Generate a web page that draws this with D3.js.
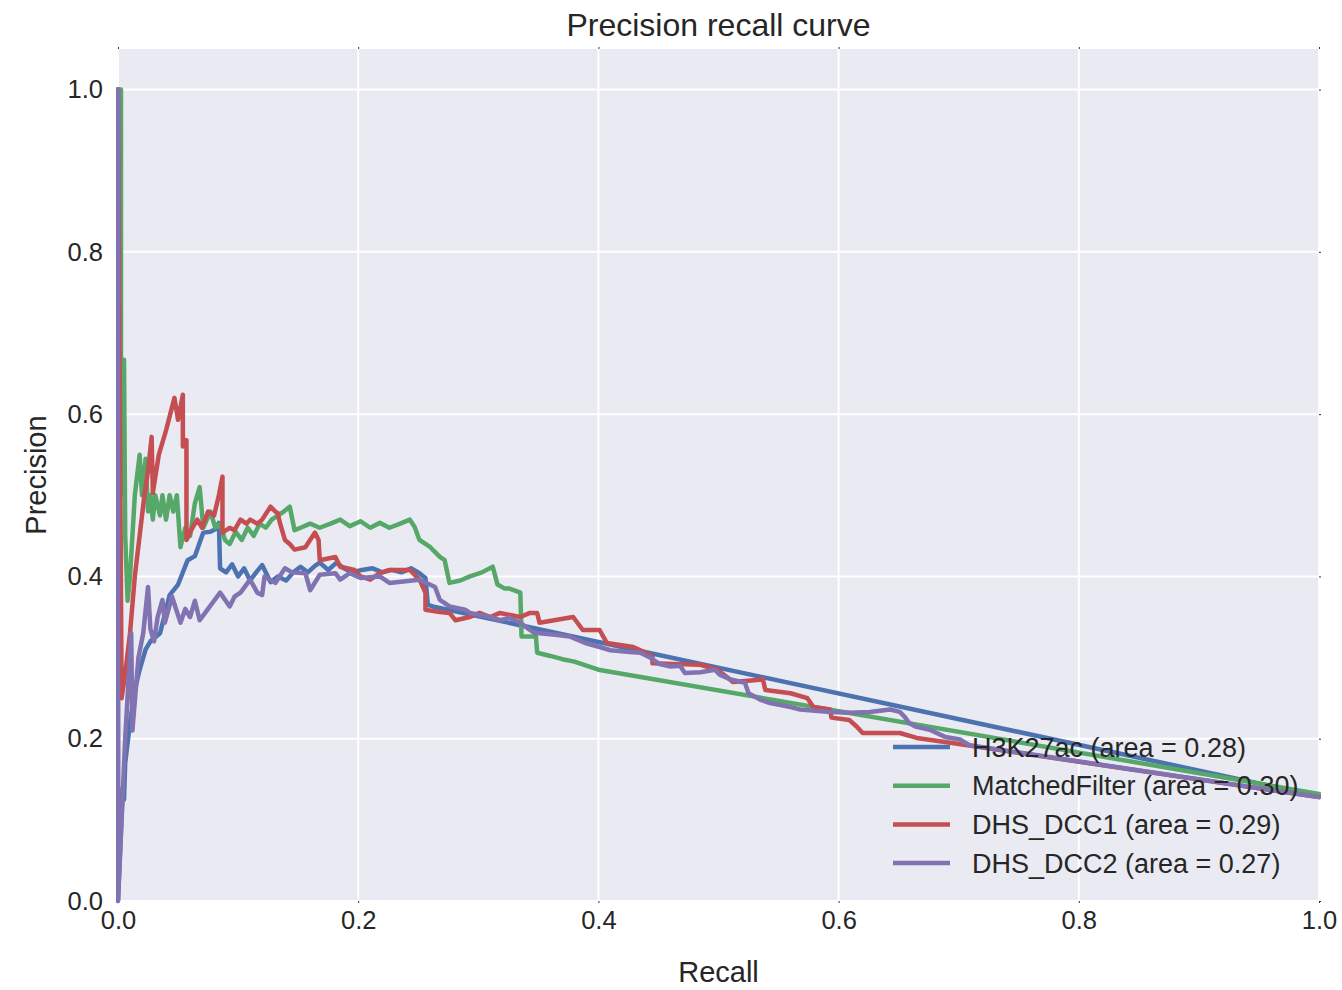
<!DOCTYPE html>
<html>
<head>
<meta charset="utf-8">
<script src="https://cdn.jsdelivr.net/npm/d3@7"></script>
<style>
  body { margin: 0; background: #fff; }
  text { font-family: "Liberation Sans", Arial, sans-serif; fill: #262626; }
</style>
</head>
<body>
<div id="chart"></div>
<script>
// [recall, precision] pairs
var h3k27ac = [[0,1],[0,0],[0.004,0.14],[0.005,0.125],[0.006,0.17],[0.010,0.22],[0.014,0.26],[0.018,0.285],[0.023,0.31],
  [0.027,0.32],[0.035,0.33],[0.043,0.377],[0.050,0.39],[0.058,0.42],[0.064,0.425],[0.071,0.454],[0.077,0.455],[0.081,0.458],
  [0.084,0.466],[0.085,0.41],[0.090,0.405],[0.095,0.415],[0.100,0.40],[0.105,0.41],[0.110,0.395],[0.115,0.405],[0.120,0.414],
  [0.127,0.393],[0.133,0.40],[0.140,0.395],[0.146,0.405],[0.152,0.412],[0.158,0.405],[0.164,0.413],[0.168,0.417],[0.175,0.408],
  [0.182,0.417],[0.188,0.41],[0.195,0.405],[0.203,0.408],[0.212,0.41],[0.220,0.405],[0.228,0.408],[0.236,0.405],[0.244,0.41],
  [0.251,0.404],[0.256,0.398],[0.258,0.365],[0.262,0.363],[1.0,0.129]];

var matchedFilter = [[0,1],[0.0025,1],[0.0025,0.5],[0.005,0.667],[0.006,0.45],[0.008,0.37],[0.010,0.40],[0.014,0.50],
  [0.018,0.55],[0.020,0.50],[0.023,0.545],[0.025,0.48],[0.027,0.50],[0.029,0.47],[0.031,0.50],[0.035,0.475],[0.037,0.50],
  [0.040,0.47],[0.043,0.50],[0.046,0.48],[0.049,0.50],[0.052,0.436],[0.056,0.46],[0.060,0.45],[0.064,0.49],[0.068,0.51],
  [0.071,0.46],[0.074,0.47],[0.077,0.48],[0.081,0.46],[0.085,0.465],[0.089,0.445],[0.093,0.44],[0.098,0.455],[0.103,0.445],
  [0.108,0.46],[0.113,0.45],[0.118,0.465],[0.123,0.46],[0.128,0.47],[0.133,0.475],[0.138,0.48],[0.143,0.486],[0.147,0.457],
  [0.152,0.46],[0.160,0.465],[0.168,0.46],[0.177,0.465],[0.185,0.47],[0.193,0.462],[0.202,0.468],[0.210,0.46],[0.218,0.466],
  [0.226,0.46],[0.235,0.465],[0.243,0.47],[0.247,0.461],[0.251,0.445],[0.260,0.436],[0.268,0.424],[0.272,0.42],[0.276,0.392],
  [0.285,0.395],[0.293,0.40],[0.303,0.405],[0.312,0.412],[0.316,0.39],[0.322,0.385],[0.326,0.385],[0.335,0.38],[0.336,0.326],
  [0.348,0.326],[0.349,0.306],[0.360,0.302],[0.370,0.298],[0.380,0.295],[0.390,0.29],[0.400,0.285],[1.0,0.132]];

var dhsDcc1 = [[0,1],[0.002,0.50],[0.003,0.25],[0.006,0.28],[0.010,0.33],[0.014,0.40],[0.018,0.45],[0.022,0.50],[0.025,0.53],
  [0.028,0.572],[0.029,0.503],[0.034,0.55],[0.040,0.58],[0.047,0.62],[0.050,0.593],[0.054,0.624],[0.054,0.56],[0.057,0.568],
  [0.057,0.445],[0.062,0.46],[0.066,0.47],[0.070,0.46],[0.075,0.48],[0.080,0.475],[0.084,0.50],[0.087,0.523],[0.087,0.454],
  [0.093,0.46],[0.097,0.457],[0.102,0.47],[0.107,0.465],[0.110,0.47],[0.116,0.465],[0.120,0.47],[0.127,0.486],[0.131,0.48],
  [0.133,0.478],[0.135,0.465],[0.139,0.445],[0.143,0.44],[0.147,0.433],[0.156,0.436],[0.164,0.454],[0.167,0.445],[0.168,0.42],
  [0.181,0.424],[0.185,0.412],[0.197,0.408],[0.202,0.40],[0.210,0.396],[0.218,0.404],[0.226,0.408],[0.243,0.408],[0.251,0.396],
  [0.256,0.38],[0.256,0.359],[0.268,0.356],[0.276,0.355],[0.281,0.346],[0.293,0.35],[0.301,0.355],[0.310,0.35],[0.318,0.355],
  [0.335,0.35],[0.343,0.355],[0.349,0.355],[0.351,0.343],[0.379,0.35],[0.387,0.334],[0.401,0.334],[0.407,0.318],[0.429,0.313],
  [0.435,0.309],[0.445,0.301],[0.445,0.293],[0.485,0.291],[0.499,0.285],[0.507,0.276],[0.512,0.27],[0.537,0.273],[0.539,0.26],
  [0.560,0.256],[0.574,0.25],[0.579,0.239],[0.593,0.236],[0.594,0.226],[0.609,0.223],[0.615,0.215],[0.620,0.207],[0.651,0.207],
  [0.665,0.201],[0.693,0.195],[1.0,0.128]];

var dhsDcc2 = [[0,1],[0,0],[0.006,0.20],[0.011,0.33],[0.012,0.21],[0.017,0.30],[0.021,0.33],[0.025,0.387],[0.027,0.335],
  [0.030,0.32],[0.033,0.35],[0.037,0.371],[0.039,0.343],[0.045,0.375],[0.052,0.343],[0.056,0.36],[0.060,0.35],[0.064,0.37],
  [0.068,0.346],[0.075,0.36],[0.080,0.37],[0.085,0.38],[0.093,0.363],[0.097,0.375],[0.102,0.38],[0.110,0.396],[0.116,0.38],
  [0.120,0.377],[0.122,0.40],[0.131,0.392],[0.139,0.41],[0.145,0.405],[0.156,0.404],[0.160,0.383],[0.168,0.402],[0.181,0.404],
  [0.185,0.396],[0.193,0.404],[0.202,0.398],[0.218,0.40],[0.226,0.392],[0.251,0.396],[0.264,0.387],[0.268,0.371],[0.272,0.367],
  [0.276,0.363],[0.289,0.359],[0.293,0.355],[0.310,0.35],[0.318,0.346],[0.326,0.349],[0.335,0.343],[0.343,0.334],[0.347,0.33],
  [0.351,0.33],[0.364,0.328],[0.376,0.326],[0.389,0.318],[0.401,0.313],[0.410,0.309],[0.426,0.307],[0.435,0.306],[0.443,0.30],
  [0.451,0.292],[0.460,0.289],[0.468,0.29],[0.472,0.281],[0.485,0.282],[0.497,0.285],[0.501,0.279],[0.510,0.273],[0.522,0.269],
  [0.525,0.256],[0.535,0.248],[0.543,0.244],[0.560,0.239],[0.568,0.236],[0.593,0.233],[0.609,0.232],[0.626,0.233],[0.643,0.236],
  [0.651,0.233],[0.655,0.227],[0.659,0.219],[0.664,0.215],[0.676,0.211],[0.689,0.202],[0.701,0.199],[0.709,0.192],[1.0,0.128]];

var seriesNames = ['H3K27ac', 'MatchedFilter', 'DHS_DCC1', 'DHS_DCC2'];
var seriesAreas = [0.28, 0.30, 0.29, 0.27];
var seriesColors = ['#4C72B0', '#55A868', '#C44E52', '#8172B2'];
var tickValues = [0, 0.2, 0.4, 0.6, 0.8, 1.0];

var width = 1342, height = 990,
    margin = {top: 49, right: 23, bottom: 89, left: 118},
    w = width - margin.left - margin.right,
    h = height - margin.top - margin.bottom;

var svg = d3.select('#chart').append('svg')
    .attr('width', width)
    .attr('height', height);

var g = svg.append('g').attr('transform', 'translate(' + margin.left + ',' + margin.top + ')');

var x = d3.scaleLinear().domain([0, 1]).range([0, w]),
    y = d3.scaleLinear().domain([0, 1.05]).range([h, 0]);

// background + grid
g.append('rect').attr('width', w).attr('height', h).attr('fill', '#EAEAF2');

g.selectAll('.vgrid').data(tickValues).enter().append('line')
    .attr('x1', x).attr('x2', x).attr('y1', 0).attr('y2', h)
    .attr('stroke', '#fff').attr('stroke-width', 2);
g.selectAll('.hgrid').data(tickValues).enter().append('line')
    .attr('y1', y).attr('y2', y).attr('x1', 0).attr('x2', w)
    .attr('stroke', '#fff').attr('stroke-width', 2);

// axes
var fmt = d3.format('.1f');
var styleAxis = function(sel) {
    sel.select('.domain').remove();
    sel.selectAll('line').attr('stroke', '#333').attr('stroke-width', 1);
    sel.selectAll('text').attr('font-size', '25.5px').attr('fill', '#262626')
        .style('font-family', '"Liberation Sans", Arial, sans-serif');
};
g.append('g').attr('transform', 'translate(0,' + h + ')')
    .call(d3.axisBottom(x).tickValues(tickValues).tickFormat(fmt).tickSize(2).tickPadding(8))
    .call(styleAxis);
g.append('g')
    .call(d3.axisLeft(y).tickValues(tickValues).tickFormat(fmt).tickSize(2).tickPadding(13))
    .call(styleAxis);
g.append('g')
    .call(d3.axisTop(x).tickValues(tickValues).tickFormat('').tickSize(2))
    .call(styleAxis);
g.append('g').attr('transform', 'translate(' + w + ',0)')
    .call(d3.axisRight(y).tickValues(tickValues).tickFormat('').tickSize(2))
    .call(styleAxis);

// curves
g.append('clipPath').attr('id', 'plotclip').append('rect')
    .attr('x', -2).attr('y', -3).attr('width', w + 4).attr('height', h + 6);

var line = d3.line().x(function(d){ return x(d[0]); }).y(function(d){ return y(d[1]); });
var curves = [h3k27ac, matchedFilter, dhsDcc1, dhsDcc2];

g.append('g').attr('clip-path', 'url(#plotclip)')
    .selectAll('path').data(curves).enter().append('path')
    .attr('d', line)
    .attr('fill', 'none')
    .attr('stroke', function(d, i){ return seriesColors[i]; })
    .attr('stroke-width', 4.5)
    .attr('stroke-linejoin', 'round')
    .attr('stroke-linecap', 'round');

// legend, no frame
var legend = g.append('g').attr('transform', 'translate(' + (w - 426) + ',' + (h - 154) + ')');
var rows = legend.selectAll('g').data(seriesNames).enter().append('g')
    .attr('transform', function(d, i){ return 'translate(0,' + (i * 38.7) + ')'; });
rows.append('line')
    .attr('x1', 0).attr('x2', 57).attr('y1', 0).attr('y2', 0)
    .attr('stroke', function(d, i){ return seriesColors[i]; })
    .attr('stroke-width', 4.5);
rows.append('text')
    .attr('x', 79).attr('dy', '0.36em')
    .attr('font-size', '27px')
    .text(function(d, i){ return d + ' (area = ' + seriesAreas[i].toFixed(2) + ')'; });

// title and axis labels
svg.append('text')
    .attr('x', margin.left + w / 2).attr('y', 36)
    .attr('text-anchor', 'middle').attr('font-size', '32px')
    .text('Precision recall curve');
svg.append('text')
    .attr('x', margin.left + w / 2).attr('y', 982)
    .attr('text-anchor', 'middle').attr('font-size', '29px')
    .text('Recall');
svg.append('text')
    .attr('transform', 'translate(46,' + (margin.top + h / 2) + ') rotate(-90)')
    .attr('text-anchor', 'middle').attr('font-size', '29px')
    .text('Precision');
</script>
</body>
</html>
